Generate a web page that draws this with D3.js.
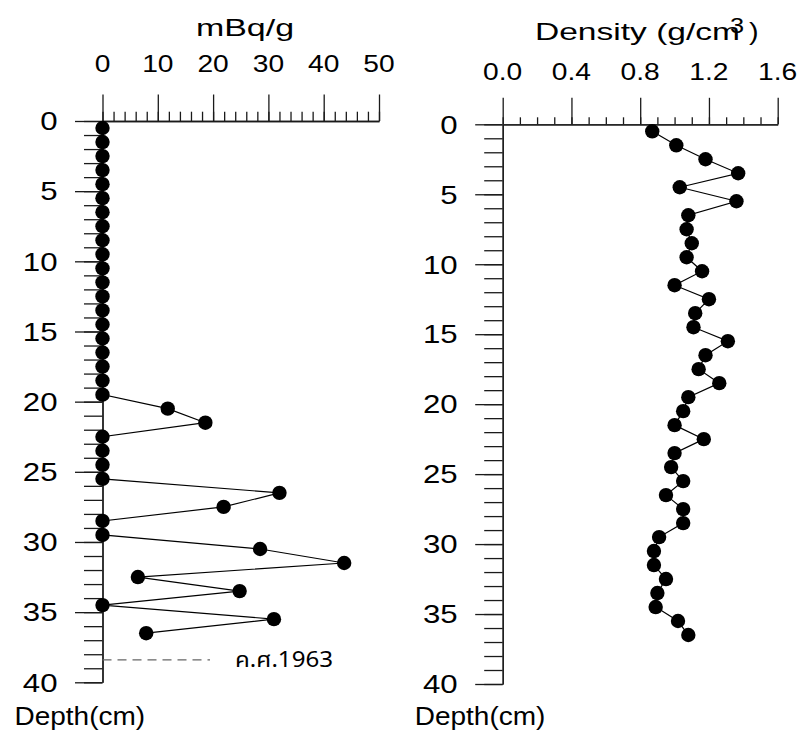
<!DOCTYPE html>
<html>
<head>
<meta charset="utf-8">
<script src="https://cdn.jsdelivr.net/npm/d3@7"></script>
<style>
  body { margin: 0; background: #fff; }
  svg text { font-family: "Liberation Sans", Arial, sans-serif; fill: #000; }
</style>
</head>
<body>
<svg id="chart" width="799" height="730"></svg>
<script>

// Depth of each sample (cm, middle of 1 cm slice)
const depths = d3.range( 0.5, 37, 1 );

// Cs-137 activity (mBq/g)
const activity = [
  0, 0, 0, 0, 0, 0, 0, 0, 0, 0,
  0, 0, 0, 0, 0, 0, 0, 0, 0, 0,
  11.8, 18.6, 0, 0, 0, 0, 32.0, 21.9, 0, 0,
  28.5, 43.7, 6.4, 24.8, 0, 31.0, 7.9
];

// Bulk density (g/cm3)
const density = [
  0.87, 1.01, 1.18, 1.37, 1.03, 1.36, 1.08, 1.07, 1.10, 1.07,
  1.16, 1.00, 1.20, 1.12, 1.11, 1.31, 1.18, 1.14, 1.26, 1.08,
  1.05, 1.00, 1.17, 1.00, 0.98, 1.05, 0.95, 1.05, 1.05, 0.91,
  0.88, 0.88, 0.95, 0.90, 0.89, 1.02, 1.08
];

const activityTicks = [ 0, 10, 20, 30, 40, 50 ];
const densityTicks = [ 0.0, 0.4, 0.8, 1.2, 1.6 ];
const depthTicks = [ 0, 5, 10, 15, 20, 25, 30, 35, 40 ];
const markerDepth = 38.4;
const markerLabel = "ค.ศ.1963";

const svg = d3.select( "#chart" );

const xAct = d3.scaleLinear().domain( [ 0, 50 ] ).range( [ 102.5, 379 ] );
const yAct = d3.scaleLinear().domain( [ 0, 40 ] ).range( [ 121, 682.3 ] );

const xDen = d3.scaleLinear().domain( [ 0, 1.6 ] ).range( [ 502.7, 777.7 ] );
const yDen = d3.scaleLinear().domain( [ 0, 40 ] ).range( [ 124.3, 684 ] );

function stretchedText( parent, x, y, txt, size, sx, anchor ) {
  return parent.append( "text" )
    .attr( "transform", "translate(" + x + "," + y + ") scale(" + sx + ",1)" )
    .attr( "text-anchor", anchor )
    .style( "font-size", size + "px" )
    .text( txt );
}

function drawPanel( x, y, values, xTicks, xMinorStep, fmt, labelBase, minorLen ) {

  const g = svg.append( "g" );
  const x0 = x.range()[ 0 ];
  const y0 = y.range()[ 0 ];
  const xMinor = d3.range( x.domain()[ 0 ], x.domain()[ 1 ] + xMinorStep / 2, xMinorStep );

  // top axis : minor + major ticks
  g.append( "g" )
    .attr( "transform", "translate(0," + y0 + ")" )
    .call( d3.axisTop( x ).tickValues( xMinor ).tickSize( minorLen ).tickSizeOuter( 0 ).tickFormat( "" ) );

  g.append( "g" )
    .attr( "transform", "translate(0," + y0 + ")" )
    .call( d3.axisTop( x ).tickValues( xTicks ).tickSize( 26.5 ).tickSizeOuter( 0 ).tickFormat( "" ) );

  // depth axis
  g.append( "g" )
    .attr( "transform", "translate(" + x0 + ",0)" )
    .call( d3.axisLeft( y ).tickValues( d3.range( 0, 41, 1 ) ).tickSize( 18.5 ).tickSizeOuter( 0 ).tickFormat( "" ) );

  g.append( "g" )
    .attr( "transform", "translate(" + x0 + ",0)" )
    .call( d3.axisLeft( y ).tickValues( depthTicks ).tickSize( 27.5 ).tickSizeOuter( 0 ).tickFormat( "" ) );

  g.selectAll( "path.domain, line" )
    .attr( "stroke", "#1a1a1a" )
    .attr( "stroke-width", 1.3 );

  xTicks.forEach( v => stretchedText( g, x( v ), labelBase, fmt( v ), 24.5, 1.15, "middle" ) );

  depthTicks.forEach( v => stretchedText( g, x0 - 45, y( v ) + 9.3, v, 26, 1.2, "end" ) );

  stretchedText( g, x0 - 88, 725, "Depth(cm)", 25, 1.12, "start" );

  // profile line + points
  const pts = depths.map( ( d, i ) => [ values[ i ], d ] );

  g.append( "path" )
    .datum( pts )
    .attr( "fill", "none" )
    .attr( "stroke", "#000" )
    .attr( "stroke-width", 1.2 )
    .attr( "d", d3.line().x( d => x( d[ 0 ] ) ).y( d => y( d[ 1 ] ) ) );

  g.selectAll( "circle" )
    .data( pts )
    .enter().append( "circle" )
      .attr( "cx", d => x( d[ 0 ] ) )
      .attr( "cy", d => y( d[ 1 ] ) )
      .attr( "r", 7.2 )
      .attr( "fill", "#000" );

  return g;
}

const left = drawPanel( xAct, yAct, activity, activityTicks, 2, d => d, 72, 9.3 );
const right = drawPanel( xDen, yDen, density, densityTicks, 0.1, d => d.toFixed( 1 ), 80, 7 );

// titles
left.append( "text" )
  .attr( "x", 196 )
  .attr( "y", 36 )
  .attr( "textLength", 98 )
  .attr( "lengthAdjust", "spacingAndGlyphs" )
  .style( "font-size", "24px" )
  .text( "mBq/g" );

const dTitle = right.append( "g" );
dTitle.append( "text" )
  .attr( "x", 535 )
  .attr( "y", 40 )
  .attr( "textLength", 205 )
  .attr( "lengthAdjust", "spacingAndGlyphs" )
  .style( "font-size", "24px" )
  .text( "Density (g/cm" );
stretchedText( dTitle, 730, 33, "3", 22, 1.15, "start" );
stretchedText( dTitle, 749, 40, ")", 24, 1.2, "start" );

// 1963 marker
left.append( "line" )
  .attr( "x1", xAct( 0 ) )
  .attr( "x2", 210 )
  .attr( "y1", yAct( markerDepth ) )
  .attr( "y2", yAct( markerDepth ) )
  .attr( "stroke", "#666" )
  .attr( "stroke-width", 1.4 )
  .attr( "stroke-dasharray", "9,6" );

left.append( "text" )
  .attr( "x", 235 )
  .attr( "y", yAct( markerDepth ) + 7 )
  .attr( "textLength", 98 )
  .attr( "lengthAdjust", "spacingAndGlyphs" )
  .style( "font-size", "21px" )
  .style( "font-family", "'Noto Sans Thai', 'Noto Sans', 'DejaVu Sans', sans-serif" )
  .text( markerLabel );

</script>
</body>
</html>
